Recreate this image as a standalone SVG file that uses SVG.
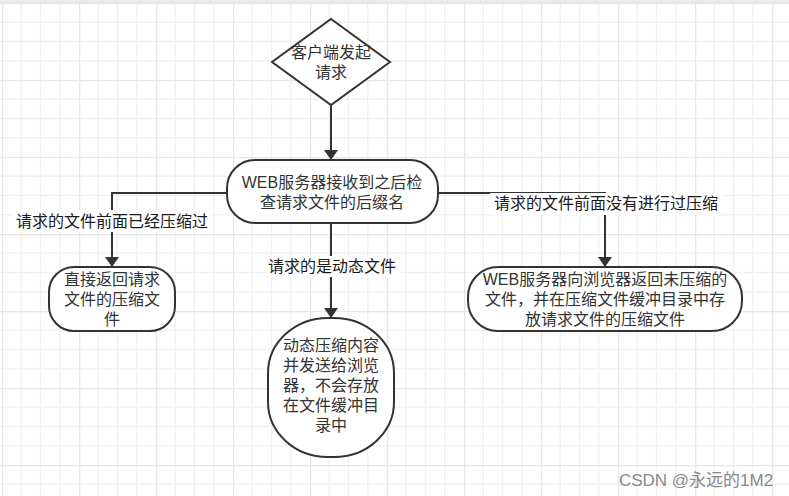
<svg xmlns="http://www.w3.org/2000/svg" width="789" height="496" viewBox="0 0 789 496">
<style>
.n{fill:#fff;stroke:#333;stroke-width:2}
.t{font-family:"Liberation Sans","Noto Sans CJK SC",sans-serif;font-size:16px;fill:#333;text-anchor:middle}
.l{font-family:"Liberation Sans","Noto Sans CJK SC",sans-serif;font-size:16px;fill:#1a1a1a;text-anchor:middle}
.c{fill:none;stroke:#333;stroke-width:2}
.lb{fill:#fff}
</style>
<defs>
<pattern id="g" x="2" y="3" width="77" height="77" patternUnits="userSpaceOnUse">
<path d="M19.25 0V77M38.5 0V77M57.75 0V77M0 19.25H77M0 38.5H77M0 57.75H77" stroke="#f1f1f1" stroke-width="1.5" fill="none"/>
<path d="M0.5 0V77M0 0.5H77" stroke="#e6e6e6" stroke-width="1.5" fill="none"/>
</pattern>
<marker id="a" markerWidth="10" markerHeight="14" refX="10" refY="5" orient="auto" markerUnits="userSpaceOnUse" viewBox="0 0 10 10" preserveAspectRatio="none">
<path d="M0 0L10 5L0 10Z" fill="#333"/>
</marker>
</defs>
<rect width="789" height="496" fill="#fff"/>
<rect width="789" height="496" fill="url(#g)"/>
<rect width="789" height="4" fill="#e8e8e8"/>
<g id="connectors">
<path class="c" d="M331 105V160" marker-end="url(#a)"/>
<path class="c" d="M227 193H112V267" marker-end="url(#a)"/>
<path class="c" d="M438 193H605V267" marker-end="url(#a)"/>
<path class="c" d="M331 223V318" marker-end="url(#a)"/>
<rect class="lb" x="13" y="210" width="198" height="22"/>
<text class="l" x="112" y="227">请求的文件前面已经压缩过</text>
<rect class="lb" x="490" y="193" width="232" height="22"/>
<text class="l" x="606" y="209">请求的文件前面没有进行过压缩</text>
<rect class="lb" x="266" y="256" width="133" height="21"/>
<text class="l" x="332" y="272">请求的是动态文件</text>
</g>
<g id="start">
<path class="n" d="M331 19L390 62L331 105L272 62Z"/>
<text class="t" x="331" y="58">客户端发起<tspan x="331" dy="20">请求</tspan></text>
</g>
<g id="check">
<rect class="n" x="227" y="160" width="211" height="63" rx="28" ry="28"/>
<text class="t" x="332" y="188">WEB服务器接收到之后检<tspan x="332" dy="20">查请求文件的后缀名</tspan></text>
</g>
<g id="direct">
<rect class="n" x="49" y="267" width="126" height="64" rx="25" ry="25"/>
<text class="t" x="112" y="285">直接返回请求<tspan x="112" dy="20">文件的压缩文</tspan><tspan x="112" dy="20">件</tspan></text>
</g>
<g id="uncompressed">
<rect class="n" x="468" y="267" width="274" height="64" rx="30" ry="30"/>
<text class="t" x="605" y="285">WEB服务器向浏览器返回未压缩的<tspan x="605" dy="20">文件，并在压缩文件缓冲目录中存</tspan><tspan x="605" dy="20">放请求文件的压缩文件</tspan></text>
</g>
<g id="dynamic">
<rect class="n" x="268" y="318" width="126" height="139" rx="60" ry="55"/>
<text class="t" x="331" y="351">动态压缩内容<tspan x="331" dy="20">并发送给浏览</tspan><tspan x="331" dy="20">器，不会存放</tspan><tspan x="331" dy="20">在文件缓冲目</tspan><tspan x="331" dy="20">录中</tspan></text>
</g>
<text x="696" y="486" style="font-family:'Liberation Sans','Noto Sans CJK SC',sans-serif;font-size:17px;fill:#8a8a8a;text-anchor:middle">CSDN @永远的1M2</text>
</svg>
